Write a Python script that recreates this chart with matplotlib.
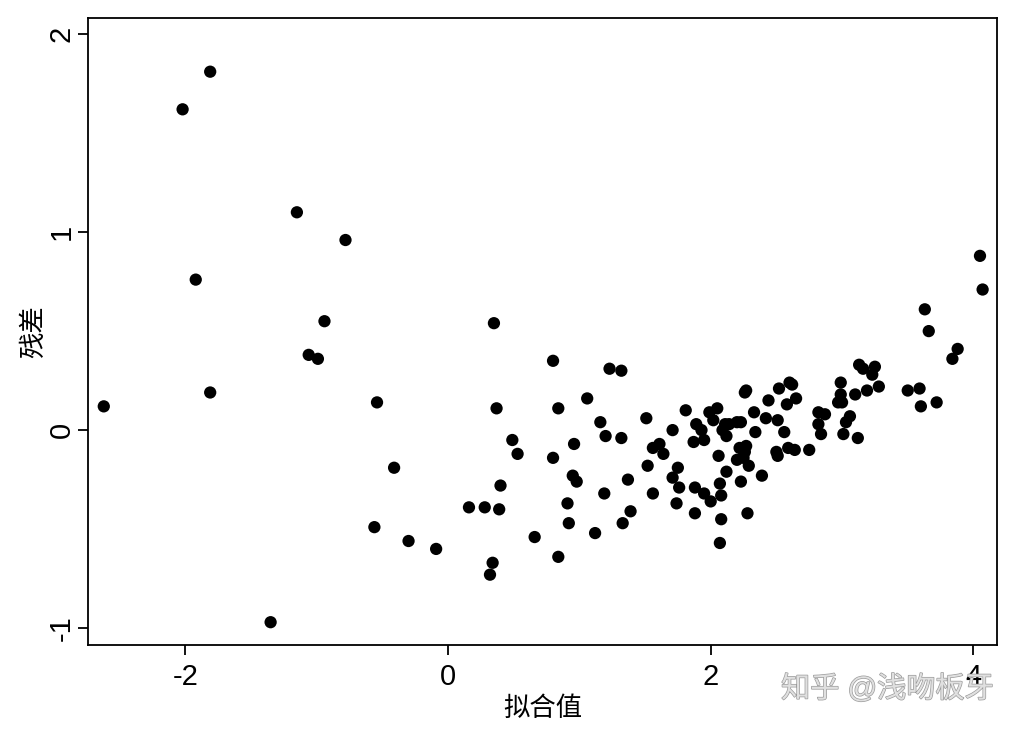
import matplotlib
matplotlib.use("Agg")
import matplotlib.pyplot as plt
import matplotlib.patheffects as pe

plt.rcParams['font.family'] = ['Liberation Sans', 'Noto Sans CJK SC', 'DejaVu Sans']
plt.rcParams['axes.unicode_minus'] = False

# fitted values / residuals
fitted = [
    -2.62, -2.02, -1.81, -1.92, -1.81, -1.35, -1.15, -0.78, -0.94, -1.06,
    -0.99, -0.54, -0.41, -0.56, -0.30, -0.09,
    0.80, 1.23, 1.32, 0.37, 0.84, 1.06, 1.16, 1.20, 1.32, 0.49,
    0.53, 0.96, 0.80, 0.95, 0.98, 1.37, 0.40, 1.19, 0.16, 0.28,
    0.39, 0.91, 1.39, 0.92, 1.33, 1.12, 0.66, 0.84, 0.34, 0.32, 0.35,
    2.27, 2.26, 2.52, 2.60, 2.44, 2.58, 1.51, 1.81, 1.99, 2.05,
    2.02, 2.33, 2.42, 2.51, 1.89, 1.93, 1.87, 1.95, 2.11, 2.14,
    2.20, 2.23, 2.09, 2.12, 1.71, 2.34, 2.56, 1.56, 1.61, 1.64,
    2.22, 2.27, 2.26, 2.50, 2.51, 2.59, 2.06, 2.20, 2.25, 2.29,
    1.52, 1.75, 1.71, 2.12, 2.23, 2.39, 1.76, 2.07, 1.88, 1.95,
    2.00, 2.08, 1.56, 1.74, 1.88, 2.08, 2.28, 2.07,
    4.05, 4.07, 3.63, 3.66, 3.88, 3.84, 3.13, 3.16, 3.25, 3.23,
    3.28, 3.19, 3.50, 3.59, 3.60, 3.72, 2.99, 2.99, 3.10, 2.97,
    3.00, 2.62, 2.65, 2.82, 2.87, 3.06, 3.03, 2.82, 2.84, 3.01,
    3.12, 2.64, 2.75,
]
resid = [
    0.12, 1.62, 1.81, 0.76, 0.19, -0.97, 1.10, 0.96, 0.55, 0.38,
    0.36, 0.14, -0.19, -0.49, -0.56, -0.60,
    0.35, 0.31, 0.30, 0.11, 0.11, 0.16, 0.04, -0.03, -0.04, -0.05,
    -0.12, -0.07, -0.14, -0.23, -0.26, -0.25, -0.28, -0.32, -0.39, -0.39,
    -0.40, -0.37, -0.41, -0.47, -0.47, -0.52, -0.54, -0.64, -0.67, -0.73, 0.54,
    0.20, 0.19, 0.21, 0.24, 0.15, 0.13, 0.06, 0.10, 0.09, 0.11,
    0.05, 0.09, 0.06, 0.05, 0.03, 0.00, -0.06, -0.05, 0.03, 0.03,
    0.04, 0.04, 0.00, -0.03, 0.00, -0.01, -0.01, -0.09, -0.07, -0.12,
    -0.09, -0.08, -0.11, -0.11, -0.13, -0.09, -0.13, -0.15, -0.14, -0.18,
    -0.18, -0.19, -0.24, -0.21, -0.26, -0.23, -0.29, -0.27, -0.29, -0.32,
    -0.36, -0.33, -0.32, -0.37, -0.42, -0.45, -0.42, -0.57,
    0.88, 0.71, 0.61, 0.50, 0.41, 0.36, 0.33, 0.31, 0.32, 0.28,
    0.22, 0.20, 0.20, 0.21, 0.12, 0.14, 0.24, 0.18, 0.18, 0.14,
    0.14, 0.23, 0.16, 0.09, 0.08, 0.07, 0.04, 0.03, -0.02, -0.02,
    -0.04, -0.10, -0.10,
]

fig = plt.figure(figsize=(10.14, 7.29), dpi=100)
ax = fig.add_axes([0.0868, 0.115, 0.8965, 0.86])

ax.scatter(fitted, resid, s=78, color='black', edgecolors='none')

ax.set_xlim(-2.74, 4.18)
ax.set_ylim(-1.086, 2.08)
ax.set_xticks([-2, 0, 2, 4])
ax.set_yticks([-1, 0, 1, 2])
ax.set_yticklabels(['-1', '0', '1', '2'], rotation=90, va='center')
ax.tick_params(axis='both', length=7, width=1.3, labelsize=21)
ax.tick_params(axis='x', pad=6)
ax.tick_params(axis='y', pad=2)

for sp in ax.spines.values():
    sp.set_linewidth(1.3)

ax.set_xlabel('拟合值', fontsize=19, labelpad=4)
ax.set_ylabel('残差', fontsize=19, labelpad=1)

fig.text(0.875, 0.055, '知乎 @浅吻板牙', fontsize=21, color='#e0e0e0',
         ha='center', va='center',
         path_effects=[pe.withStroke(linewidth=1.0, foreground='#9a9a9a')])

fig.savefig('out.png', dpi=100)
